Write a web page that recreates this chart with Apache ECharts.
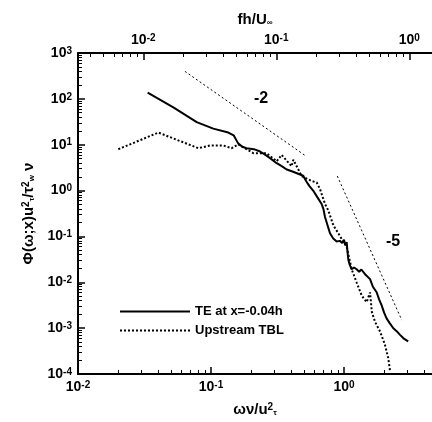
<!DOCTYPE html>
<html>
<head>
<meta charset="utf-8">
<script src="https://cdn.jsdelivr.net/npm/echarts@6/dist/echarts.min.js"></script>
<style>
html, body { margin: 0; padding: 0; background: #fff; }
#chart { width: 432px; height: 422px; }
</style>
</head>
<body>
<div id="chart"></div>
<script>
// bottom axis decades and top axis decades (labels drawn as 10^n)
const xDecades = [0.01, 0.1, 1];
const topDecades = [0.01, 0.1, 1];
const yDecades = [1e-4, 1e-3, 1e-2, 1e-1, 1, 10, 100, 1000];

// TE at x=-0.04h  [omega nu/u_tau^2, Phi]
const teData = [
  [0.0334, 137], [0.0521, 65], [0.0781, 31], [0.104, 22.4], [0.135, 18.4], [0.148, 16],
  [0.160, 10.7], [0.172, 9.0], [0.185, 8.4], [0.21, 8.0], [0.234, 7.1], [0.25, 6.3],
  [0.278, 5.1], [0.31, 4.0], [0.34, 3.4], [0.371, 2.88], [0.41, 2.6], [0.467, 2.24],
  [0.494, 2.1], [0.52, 1.6], [0.55, 1.25], [0.588, 0.99], [0.63, 0.72], [0.679, 0.51],
  [0.70, 0.40], [0.720, 0.265], [0.75, 0.18], [0.785, 0.117], [0.83, 0.09], [0.881, 0.0774],
  [0.93, 0.08], [0.97, 0.072], [1.0, 0.085], [1.02, 0.065], [1.048, 0.075], [1.06, 0.05],
  [1.077, 0.0314], [1.10, 0.025], [1.142, 0.0192], [1.19, 0.021], [1.245, 0.0192],
  [1.30, 0.017], [1.35, 0.019], [1.44, 0.015], [1.57, 0.0117], [1.65, 0.008], [1.76, 0.00606],
  [1.84, 0.0042], [1.92, 0.00314], [2.0, 0.0022], [2.09, 0.00163], [2.2, 0.0013],
  [2.35, 0.000996], [2.5, 0.00085], [2.64, 0.000715], [2.8, 0.0006], [3.04, 0.000514]
];

// Upstream TBL
const tblData = [
  [0.0201, 7.98], [0.0402, 18.4], [0.0803, 8.4], [0.0983, 9.6], [0.124, 9.6], [0.143, 8.4],
  [0.160, 10.2], [0.208, 6.55], [0.262, 6.55], [0.312, 4.35], [0.340, 6.0], [0.404, 3.4],
  [0.416, 4.7], [0.481, 2.07], [0.571, 1.62], [0.624, 1.5], [0.661, 1.07], [0.720, 0.51],
  [0.762, 0.37], [0.831, 0.176], [0.906, 0.117], [0.988, 0.077], [1.048, 0.0595],
  [1.142, 0.0192], [1.245, 0.0099], [1.36, 0.0051], [1.48, 0.0037], [1.57, 0.006],
  [1.62, 0.00226], [1.71, 0.00138], [1.87, 0.00084], [2.03, 0.000437], [2.15, 0.000226],
  [2.22, 0.000117]
];

// slope guide lines
const slope2 = [[0.0637, 398], [0.509, 5.84]];
const slope5 = [[0.891, 2.07], [2.72, 0.0015]];

const FONT = 'Liberation Sans';
const xMin = 0.01, xMax = 4.59;
const topShift = 3.097; // omega nu/u_tau^2 = shift * fh/U_inf

function minors(lo, hi) {
  let out = [];
  for (let e = -5; e <= 3; e++) {
    for (let m = 2; m <= 9; m++) {
      let v = m * Math.pow(10, e);
      if (v > lo && v < hi) out.push(v);
    }
  }
  return out;
}

const supRich = {
  b: { fontSize: 14, fontFamily: FONT, fontWeight: 'bold', color: '#000' },
  s: { fontSize: 10, fontFamily: FONT, fontWeight: 'bold', color: '#000', verticalAlign: 'top' }
};
function powLabel(v) {
  return '{b|10}{s|' + Math.round(Math.log10(v)) + '}';
}
const nameStyle = {
  fontSize: 15, fontFamily: FONT, fontWeight: 'bold', color: '#000',
  rich: {
    sp: { fontSize: 10, fontFamily: FONT, fontWeight: 'bold', color: '#000', verticalAlign: 'top' },
    sb: { fontSize: 8, fontFamily: FONT, fontWeight: 'bold', color: '#000', verticalAlign: 'bottom' }
  }
};

function mainAxis(pos, min, max, ticks, extra) {
  return Object.assign({
    type: 'log', logBase: 10, position: pos, min: min, max: max,
    axisLine: { onZero: false, lineStyle: { color: '#000', width: 2 } },
    axisTick: { inside: true, length: 7, customValues: ticks, lineStyle: { color: '#000', width: 1.5 } },
    axisLabel: { customValues: ticks, formatter: powLabel, rich: supRich, margin: 6 },
    splitLine: { show: false },
    minorTick: { show: false }
  }, extra);
}
function minorAxis(pos, min, max) {
  return {
    type: 'log', logBase: 10, position: pos, min: min, max: max,
    axisLine: { show: false },
    axisTick: { inside: true, length: 4, customValues: minors(min, max), lineStyle: { color: '#000', width: 1 } },
    axisLabel: { show: false },
    splitLine: { show: false }
  };
}

let chart = echarts.init(document.getElementById('chart'));
let option = {
  backgroundColor: '#fff',
  animation: false,
  grid: { left: 78, right: 0, top: 53, bottom: 42 },
  legend: {
    data: ['TE at x=-0.04h', 'Upstream TBL'],
    orient: 'vertical', left: 114, top: 300,
    itemWidth: 70, itemHeight: 12, itemGap: 6,
    itemStyle: { opacity: 0 },
    textStyle: { fontSize: 13, fontFamily: FONT, fontWeight: 'bold', color: '#000' }
  },
  xAxis: [
    mainAxis('bottom', xMin, xMax, xDecades, {
      name: 'ων/u{sp|2}{sb|τ}', nameLocation: 'middle', nameGap: 28,
      nameTextStyle: nameStyle
    }),
    minorAxis('bottom', xMin, xMax),
    mainAxis('top', xMin / topShift, xMax / topShift, topDecades, {
      name: 'fh/U{sb|∞}', nameLocation: 'middle', nameGap: 26,
      nameTextStyle: nameStyle
    }),
    minorAxis('top', xMin / topShift, xMax / topShift)
  ],
  yAxis: [
    mainAxis('left', 1e-4, 1e3, yDecades, {
      name: 'Φ(ω;x)u{sp|2}{sb|τ}/τ{sp|2}{sb|w} ν', nameLocation: 'middle', nameGap: 42,
      nameTextStyle: nameStyle
    }),
    minorAxis('left', 1e-4, 1e3)
  ],
  graphic: [
    { type: 'text', left: 254, top: 91, style: { text: '-2', font: 'bold 16px "Liberation Sans"', fill: '#000' } },
    { type: 'text', left: 386, top: 234, style: { text: '-5', font: 'bold 16px "Liberation Sans"', fill: '#000' } }
  ],
  series: [
    {
      name: 'TE at x=-0.04h', type: 'line', data: teData, symbol: 'none',
      lineStyle: { color: '#000', width: 2 }, itemStyle: { color: '#000' }
    },
    {
      name: 'Upstream TBL', type: 'line', data: tblData, symbol: 'none',
      lineStyle: { color: '#000', width: 2, type: [2, 2] }, itemStyle: { color: '#000' }
    },
    {
      name: 'slope -2', type: 'line', data: slope2, symbol: 'none',
      lineStyle: { color: '#000', width: 1, type: [2, 2.5] }
    },
    {
      name: 'slope -5', type: 'line', data: slope5, symbol: 'none',
      lineStyle: { color: '#000', width: 1, type: [2, 2.5] }
    }
  ]
};
chart.setOption(option);
</script>
</body>
</html>
